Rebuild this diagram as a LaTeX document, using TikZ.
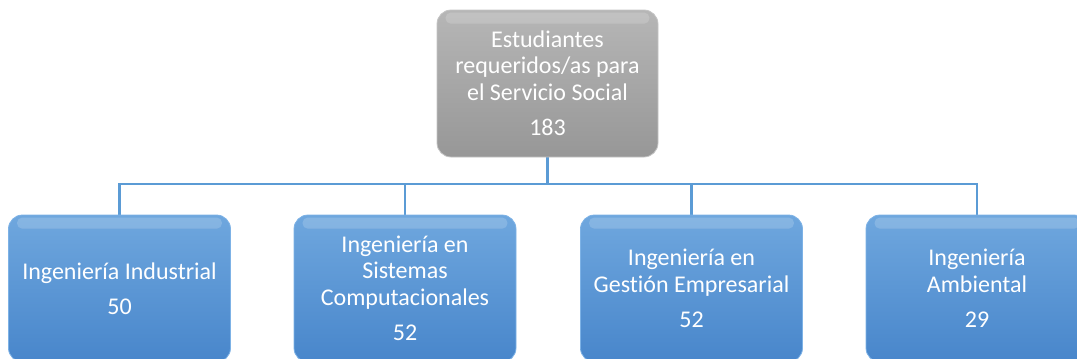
\documentclass[tikz,border=0pt]{standalone}
\usepackage{fontspec}
\setmainfont{Carlito}[Ligatures=NoCommon]
\definecolor{blueTop}{HTML}{6FA7DE}
\definecolor{blueBot}{HTML}{4886CB}
\definecolor{blueEdge}{HTML}{7DB2E6}
\definecolor{grayTop}{HTML}{B6B6B6}
\definecolor{grayBot}{HTML}{979797}
\definecolor{grayEdge}{HTML}{C4C4C4}
\definecolor{lineBlue}{HTML}{5B9BD5}
\begin{document}
\begin{tikzpicture}[x=1pt,y=-1pt,
  box/.style={rounded corners=14pt, minimum width=222pt, minimum height=147pt,
    inner sep=0pt, align=center, text=white, font=\fontsize{24}{26.5}\selectfont},
  bluebox/.style={box, top color=blueTop, bottom color=blueBot, draw=blueEdge, line width=0.8pt},
  graybox/.style={box, minimum width=221pt, top color=grayTop, bottom color=grayBot, draw=grayEdge, line width=0.8pt},
  gloss/.style={fill=white, fill opacity=0.17, rounded corners=5pt},
  conn/.style={draw=lineBlue, line width=2.6pt}]
\useasboundingbox (0,0) rectangle (1077,359);
\clip (0,0) rectangle (1077,359);

\coordinate (bus) at (547.5,184);

\draw[conn] (547.5,150) -- (bus);
\draw[conn] (bus) -| (119.5,225);
\draw[conn] (bus) -| (405,225);
\draw[conn] (bus) -| (691.5,225);
\draw[conn] (bus) -| (977,225);

\node[graybox] (top) at (547.5,83.5) {Estudiantes\\requeridos/as para\\el Servicio Social\\[9pt]183};
\node[bluebox] (c1) at (119.5,288.5) {Ingeniería Industrial\\[9pt]50};
\node[bluebox] (c2) at (405,288.5) {Ingeniería en\\Sistemas\\Computacionales\\[9pt]52};
\node[bluebox] (c3) at (691.5,288.5) {Ingeniería en\\Gestión Empresarial\\[9pt]52};
\node[bluebox] (c4) at (977,288.5) {Ingeniería\\Ambiental\\[9pt]29};

\foreach \n in {top,c1,c2,c3,c4}{
  \fill[gloss] ([xshift=9pt,yshift=-3pt]\n.north west) rectangle ([xshift=-9pt,yshift=-14pt]\n.north east);
}
\end{tikzpicture}
\end{document}
